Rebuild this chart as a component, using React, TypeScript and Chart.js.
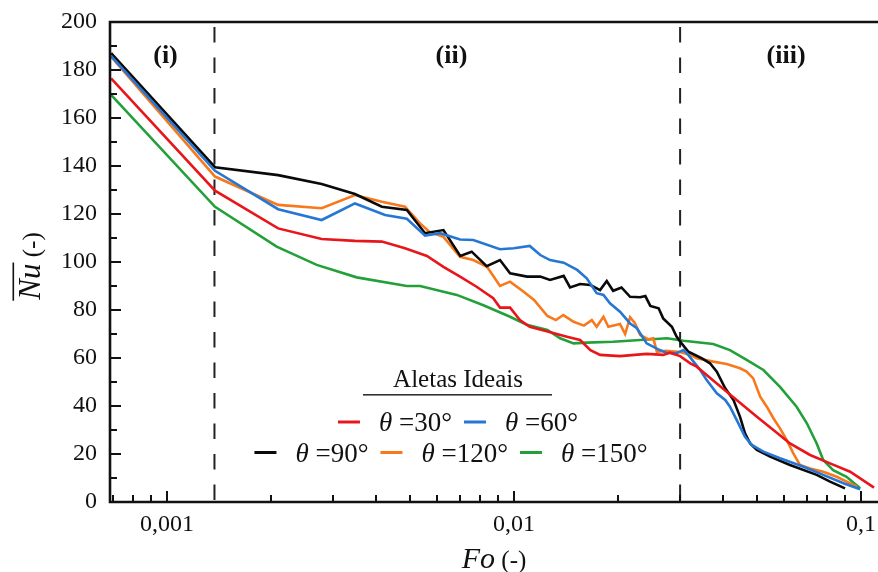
import React, { useEffect, useRef } from 'react';
import { Chart, registerables } from 'chart.js';

Chart.register(...registerables);

// ---------- data ----------
const SERIES_NAMES = ['30°', '60°', '90°', '120°', '150°'];
const SERIES_COLORS = ['#e8161b', '#2677d4', '#0a0a0a', '#f7791c', '#23a03a'];

// [Fo, Nu]
const THETA_30: [number, number][] = [
  [0.00069, 176.5], [0.001375, 129.7], [0.00209, 114], [0.00279, 109.6], [0.00348, 108.8],
  [0.00416, 108.5], [0.00485, 105.7], [0.00561, 102.5], [0.00626, 98], [0.00699, 93.9],
  [0.0078, 89.7], [0.00871, 84.9], [0.00911, 81], [0.00974, 81], [0.0104, 75.8],
  [0.0111, 73], [0.0125, 71], [0.0142, 68.9], [0.0155, 67.5], [0.0166, 63.3],
  [0.0177, 61.3], [0.0202, 60.8], [0.0241, 61.7], [0.0269, 61.3], [0.0281, 62.2],
  [0.0301, 60.8], [0.0322, 57.8], [0.0336, 56.4], [0.0384, 49.4], [0.0438, 42.5],
  [0.0501, 35.5], [0.0559, 30], [0.0624, 24.4], [0.0713, 19.6], [0.0814, 16.1],
  [0.093, 12.6], [0.109, 6],
];

const THETA_60: [number, number][] = [
  [0.00069, 185.8], [0.001375, 138], [0.00209, 122], [0.00279, 117.5], [0.00348, 124.4],
  [0.00425, 119.6], [0.00491, 118], [0.00554, 111], [0.00612, 112], [0.00699, 109.4],
  [0.00763, 109.2], [0.00911, 105.3], [0.00998, 105.7], [0.0111, 106.7], [0.0119, 102.9],
  [0.0127, 100.8], [0.0139, 99.7], [0.0152, 96.7], [0.0162, 93.2], [0.0173, 87],
  [0.0181, 86.3], [0.0189, 82.8], [0.0202, 79.3], [0.0216, 74.4], [0.0226, 72.4],
  [0.0241, 66.1], [0.0263, 63.3], [0.0275, 62.2], [0.0294, 62], [0.0308, 63.3],
  [0.0315, 62], [0.0329, 58.5], [0.0344, 55], [0.0359, 50.8], [0.0384, 45.3],
  [0.0406, 42.5], [0.0419, 39.7], [0.0438, 34.2], [0.0463, 27.2], [0.0484, 23.8],
  [0.0523, 21], [0.0584, 18.2], [0.0682, 14.7], [0.0778, 11.3], [0.089, 7.8],
  [0.0994, 5.3],
];

const THETA_90: [number, number][] = [
  [0.00069, 187], [0.001375, 139.5], [0.00209, 136.2], [0.00279, 132.5], [0.00348, 128.3],
  [0.00416, 123], [0.00491, 121.7], [0.00554, 112], [0.00626, 113.3], [0.0070, 102.5],
  [0.00755, 104.3], [0.00834, 98.3], [0.00911, 100.8], [0.00974, 95.3], [0.0109, 93.9],
  [0.0119, 93.9], [0.0127, 92.5], [0.0139, 94.2], [0.0145, 89.4], [0.0155, 90.8],
  [0.0166, 90.4], [0.0177, 88.3], [0.0185, 92.1], [0.0193, 88], [0.0204, 89.4],
  [0.0216, 85.5], [0.0231, 85.3], [0.0239, 85.8], [0.0247, 81.7], [0.0261, 80.7],
  [0.0269, 76.5], [0.0285, 73], [0.0294, 68.9], [0.0304, 66.1], [0.0318, 62.6],
  [0.0347, 59.9], [0.0367, 57.8], [0.0384, 54.3], [0.0406, 47.4], [0.0429, 42.5],
  [0.0448, 35.5], [0.0463, 28.6], [0.0479, 24.4], [0.0501, 21.7], [0.0547, 18.9],
  [0.0624, 15.4], [0.0745, 11.3], [0.0814, 8.5], [0.0899, 5.7],
];

const THETA_120: [number, number][] = [
  [0.00069, 185.6], [0.001375, 135.6], [0.00209, 123.8], [0.00279, 122.4], [0.00348, 127.9],
  [0.00416, 125.1], [0.00485, 123], [0.00536, 116.1], [0.0057, 112.6], [0.00626, 110.5],
  [0.00699, 102.2], [0.00763, 100.8], [0.00836, 98], [0.00911, 90], [0.00974, 91.8],
  [0.01066, 87.6], [0.01142, 84.2], [0.01248, 77.5], [0.0132, 75.8], [0.01387, 77.9],
  [0.01485, 75.1], [0.0159, 73.5], [0.01675, 75.8], [0.0173, 73], [0.0181, 77.2],
  [0.0187, 73], [0.0202, 74.2], [0.0209, 70], [0.0216, 77], [0.0223, 74.5],
  [0.0231, 69.6], [0.0244, 67.8], [0.0252, 68.2], [0.0258, 62.6], [0.0275, 63],
  [0.0301, 62.5], [0.0322, 61.3], [0.0336, 59.9], [0.0375, 58.5], [0.041, 57.5],
  [0.0448, 55.7], [0.0468, 54.3], [0.0489, 51.5], [0.0512, 43.9], [0.0535, 39.7],
  [0.0559, 34.9], [0.0584, 30.7], [0.0611, 25.8], [0.0638, 20.3], [0.0667, 15.4],
  [0.0713, 14], [0.0778, 12.6], [0.0851, 10.5], [0.0972, 6.4],
];

const THETA_150: [number, number][] = [
  [0.00069, 169.6], [0.001375, 123], [0.00207, 106.4], [0.0027, 98.8], [0.00352, 93.6],
  [0.00491, 90], [0.00536, 90], [0.00684, 86.3], [0.00816, 82], [0.00974, 77.2],
  [0.01088, 73.8], [0.01248, 71.7], [0.01358, 68.2], [0.01485, 66.1], [0.01618, 66.4],
  [0.0193, 66.8], [0.0231, 67.5], [0.0276, 68.2], [0.0308, 67.2], [0.0375, 65.8],
  [0.0419, 63.3], [0.0468, 59.2], [0.0523, 55], [0.0584, 48], [0.0652, 39.7],
  [0.0698, 32.8], [0.0745, 24.4], [0.0778, 17.5], [0.0831, 13.3], [0.0908, 10.5],
  [0.0994, 5.7],
];

const SERIES = [THETA_30, THETA_60, THETA_90, THETA_120, THETA_150];

const REGION_DIVIDERS = [0.00137, 0.0301];
const REGION_LABELS = ['(i)', '(ii)', '(iii)'];

const X_MIN = 0.000685;
const X_MAX = 0.1119;
const X_TICKS = [
  0.0007, 0.0008, 0.0009,
  0.001, 0.002, 0.003, 0.004, 0.005, 0.006, 0.007, 0.008, 0.009,
  0.01, 0.02, 0.03, 0.04, 0.05, 0.06, 0.07, 0.08, 0.09,
  0.1,
];
const X_MAJOR = [0.001, 0.01, 0.1];
const X_MAJOR_LABELS = ['0,001', '0,01', '0,1'];

const Y_MIN = 0;
const Y_MAX = 200;
const Y_STEP = 10;
const Y_LABEL_STEP = 20;

const LEGEND_TITLE = 'Aletas Ideais';
const LEGEND_ROWS = [[0, 1], [2, 3, 4]];

// ---------- helpers ----------
const FONT = '"Liberation Serif", "Times New Roman", serif';
const isMajorX = (v: number) => X_MAJOR.some((m) => Math.abs(v - m) / m < 1e-6);

const decorPlugin = {
  id: 'decor',
  afterDraw(chart: any) {
    const { ctx, chartArea, scales } = chart;
    const { left, right, top, bottom } = chartArea;
    const xs = scales.x;
    const ys = scales.y;
    ctx.save();

    // ticks (inward)
    ctx.strokeStyle = '#111';
    ctx.lineWidth = 2;
    ctx.beginPath();
    for (const v of X_TICKS) {
      const px = Math.round(xs.getPixelForValue(v));
      const len = isMajorX(v) ? 11 : 7;
      ctx.moveTo(px, bottom);
      ctx.lineTo(px, bottom - len);
    }
    for (let v = Y_MIN; v <= Y_MAX; v += Y_STEP) {
      const py = Math.round(ys.getPixelForValue(v));
      const len = v % Y_LABEL_STEP === 0 ? 11 : 7;
      ctx.moveTo(left, py);
      ctx.lineTo(left + len, py);
    }
    ctx.stroke();

    // frame: left, bottom, top
    ctx.lineWidth = 2.6;
    ctx.strokeStyle = '#111';
    ctx.beginPath();
    ctx.moveTo(right, top);
    ctx.lineTo(left, top);
    ctx.lineTo(left, bottom);
    ctx.lineTo(right, bottom);
    ctx.stroke();

    ctx.fillStyle = '#111';

    // region labels
    const regionFo = [0.00099, 0.0066, 0.0608];
    ctx.font = `bold 26px ${FONT}`;
    ctx.textAlign = 'center';
    ctx.textBaseline = 'alphabetic';
    REGION_LABELS.forEach((t, i) => {
      ctx.fillText(t, xs.getPixelForValue(regionFo[i]), top + 41);
    });

    // x title: Fo (-)
    ctx.textAlign = 'left';
    const fo = 'Fo';
    const unit = ' (-)';
    ctx.font = `italic 30px ${FONT}`;
    const wFo = ctx.measureText(fo).width;
    ctx.font = `25px ${FONT}`;
    const wU = ctx.measureText(unit).width;
    const tx = 494 - (wFo + wU) / 2;
    ctx.font = `italic 30px ${FONT}`;
    ctx.fillText(fo, tx, 568);
    ctx.font = `25px ${FONT}`;
    ctx.fillText(unit, tx + wFo, 568);

    // y title: Nu (-) rotated with overline
    ctx.save();
    ctx.translate(40, 266);
    ctx.rotate(-Math.PI / 2);
    ctx.font = `italic 31px ${FONT}`;
    const nu = 'Nu';
    const wNu = ctx.measureText(nu).width;
    ctx.font = `25px ${FONT}`;
    const wU2 = ctx.measureText(unit).width;
    const sx = -(wNu + wU2) / 2;
    ctx.font = `italic 31px ${FONT}`;
    ctx.fillText(nu, sx, 0);
    ctx.font = `25px ${FONT}`;
    ctx.fillText(unit, sx + wNu, 0);
    ctx.fillRect(sx - 1, -27.5, wNu + 2, 1.6);
    ctx.restore();

    // legend
    ctx.font = `25px ${FONT}`;
    ctx.textAlign = 'center';
    ctx.fillText(LEGEND_TITLE, 458, 387);
    ctx.fillStyle = '#333';
    ctx.fillRect(363, 394, 189, 1.6);
    ctx.fillStyle = '#111';
    ctx.textAlign = 'left';

    const rowCx = [458, 451];
    const rowLineY = [422, 452.5];
    const rowBase = [431, 461.5];
    const lineLen = 22;
    const gapLT = 19;
    const gapTL = 12;
    const itemFont = 27;
    const measureItem = (i: number) => {
      ctx.font = `italic ${itemFont}px ${FONT}`;
      const a = ctx.measureText('θ').width;
      ctx.font = `${itemFont}px ${FONT}`;
      const b = ctx.measureText(' =' + SERIES_NAMES[i]).width;
      return { a, b };
    };
    LEGEND_ROWS.forEach((row, r) => {
      const sizes = row.map(measureItem);
      const total =
        sizes.reduce((s, m) => s + lineLen + gapLT + m.a + m.b, 0) + gapTL * (row.length - 1);
      let x = rowCx[r] - total / 2;
      row.forEach((si, k) => {
        ctx.strokeStyle = SERIES_COLORS[si];
        ctx.lineWidth = 3;
        ctx.beginPath();
        ctx.moveTo(x, rowLineY[r]);
        ctx.lineTo(x + lineLen, rowLineY[r]);
        ctx.stroke();
        x += lineLen + gapLT;
        ctx.font = `italic ${itemFont}px ${FONT}`;
        ctx.fillText('θ', x, rowBase[r]);
        x += sizes[k].a;
        ctx.font = `${itemFont}px ${FONT}`;
        ctx.fillText(' =' + SERIES_NAMES[si], x, rowBase[r]);
        x += sizes[k].b + gapTL;
      });
    });

    ctx.restore();
  },
};

export default function App() {
  const ref = useRef<HTMLCanvasElement>(null);

  useEffect(() => {
    const canvas = ref.current;
    if (!canvas) return;

    const datasets: any[] = SERIES.map((s, i) => ({
      label: 'θ =' + SERIES_NAMES[i],
      data: s.map(([x, y]) => ({ x, y })),
      borderColor: SERIES_COLORS[i],
      backgroundColor: SERIES_COLORS[i],
      borderWidth: 2.6,
      pointRadius: 0,
      tension: 0,
      fill: false,
    }));
    REGION_DIVIDERS.forEach((d) => {
      datasets.push({
        label: 'divider',
        data: [{ x: d, y: Y_MAX }, { x: d, y: Y_MIN }],
        borderColor: '#222',
        borderWidth: 2,
        borderDash: [15.5, 15],
        borderDashOffset: -5,
        pointRadius: 0,
        tension: 0,
        fill: false,
      });
    });

    const chart = new Chart(canvas, {
      type: 'line',
      data: { datasets },
      options: {
        animation: false,
        responsive: false,
        devicePixelRatio: 1,
        layout: { padding: { top: 22, right: 0, bottom: 0, left: 0 } },
        plugins: {
          legend: { display: false },
          tooltip: { enabled: false },
        },
        scales: {
          x: {
            type: 'logarithmic',
            min: X_MIN,
            max: X_MAX,
            grid: { display: false, drawTicks: false },
            border: { display: false },
            afterBuildTicks: (scale: any) => {
              scale.ticks = X_TICKS.map((v) => ({ value: v, major: isMajorX(v) }));
            },
            afterFit: (scale: any) => {
              scale.height = 70;
              scale.paddingLeft = 0;
              scale.paddingRight = 0;
            },
            ticks: {
              autoSkip: false,
              maxRotation: 0,
              padding: 8,
              color: '#111',
              font: { family: FONT, size: 24 },
              callback: (value: any) => {
                const v = Number(value);
                const idx = X_MAJOR.findIndex((m) => Math.abs(v - m) / m < 1e-6);
                return idx >= 0 ? X_MAJOR_LABELS[idx] : '';
              },
            },
          },
          y: {
            type: 'linear',
            min: Y_MIN,
            max: Y_MAX,
            grid: { display: false, drawTicks: false },
            border: { display: false },
            afterFit: (scale: any) => {
              scale.width = 110;
              scale.paddingTop = 0;
              scale.paddingBottom = 0;
            },
            ticks: {
              stepSize: Y_STEP,
              autoSkip: false,
              padding: 13,
              color: '#111',
              font: { family: FONT, size: 24 },
              callback: (value: any) => (Number(value) % Y_LABEL_STEP === 0 ? String(value) : ''),
            },
          },
        },
      } as any,
      plugins: [decorPlugin],
    });

    return () => chart.destroy();
  }, []);

  return (
    <div style={{ position: 'fixed', left: 0, top: 0, width: 878, height: 572, background: '#fff' }}>
      <canvas ref={ref} width={878} height={572} style={{ display: 'block' }} />
    </div>
  );
}
